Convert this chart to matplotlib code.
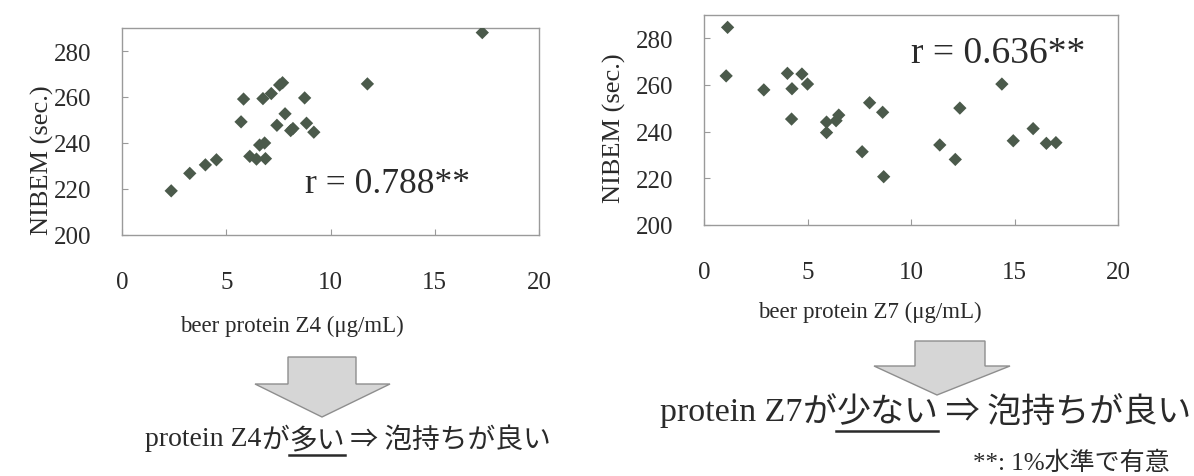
import matplotlib
matplotlib.use('Agg')
import matplotlib.pyplot as plt
from matplotlib.patches import Polygon
from matplotlib.lines import Line2D

# ---------------- data ----------------
z4_conc = [2.36, 3.25, 4.0, 4.53, 5.71, 5.83, 6.13, 6.45, 6.6, 6.76, 6.84, 6.88,
           7.16, 7.43, 7.56, 7.7, 7.82, 8.09, 8.2, 8.76, 8.85, 9.2, 11.77, 17.28]
z4_nibem = [219.2, 226.8, 230.5, 232.7, 249.2, 259.1, 234.2, 233.0, 239.1, 259.3, 240.0, 233.2,
            261.5, 247.7, 265.2, 266.2, 252.7, 245.4, 246.3, 259.6, 248.6, 244.7, 265.7, 288.0]

z7_conc = [1.14, 1.07, 2.89, 4.03, 4.25, 4.23, 4.73, 5.0, 5.92, 5.92, 6.38, 6.51,
           7.64, 8.0, 8.63, 8.68, 11.39, 12.14, 12.36, 14.39, 14.94, 15.9, 16.54, 17.0]
z7_nibem = [284.7, 263.9, 257.9, 265.0, 258.4, 245.4, 264.7, 260.4, 244.1, 239.6, 244.7, 247.1,
            231.4, 252.4, 248.3, 220.7, 234.3, 228.1, 250.1, 260.4, 236.1, 241.3, 235.0, 235.3]

x_ticks = [0, 5, 10, 15, 20]
y_ticks = [200, 220, 240, 260, 280]
r_labels = ["r = 0.788**", "r = 0.636**"]
x_labels = ["beer protein Z4 (μg/mL)", "beer protein Z7 (μg/mL)"]
y_label = "NIBEM (sec.)"

# ---------------- layout helpers ----------------
W, H = 1194, 477
fig = plt.figure(figsize=(W / 100, H / 100), dpi=100)
fig.patch.set_facecolor('white')

SERIF = ['Liberation Serif', 'Noto Sans CJK JP', 'DejaVu Sans']
MIX = ['Liberation Serif', 'Noto Sans CJK JP', 'DejaVu Sans']
JP = ['Noto Sans CJK JP', 'DejaVu Sans']
TXT = '#2a2a2a'
MK = '#4b5a4b'


def px_axes(l, t, r, b):
    return fig.add_axes([l / W, 1 - b / H, (r - l) / W, (b - t) / H])


def ftext(x, y, s, **kw):
    return fig.text(x / W, 1 - y / H, s, **kw)


def scatter_panel(box, xs, ys, rlabel, rpos, rsize, xlabel, xlab_pos, ylab_pos):
    ax = px_axes(*box)
    ax.scatter(xs, ys, marker='D', s=46, color=MK, edgecolors='none', zorder=3)
    ax.set_xlim(0, 20)
    ax.set_ylim(200, 290)
    ax.set_xticks(x_ticks)
    ax.set_yticks(y_ticks)
    ax.set_xticklabels([str(v) for v in x_ticks])
    ax.set_yticklabels([str(v) for v in y_ticks])
    for sp in ax.spines.values():
        sp.set_color('#9a9a9a')
        sp.set_linewidth(1.0)
    ax.tick_params(axis='both', direction='in', length=4, color='#9a9a9a',
                   labelsize=18, labelcolor=TXT)
    ax.tick_params(axis='y', pad=22)
    ax.tick_params(axis='x', pad=26)
    for lab in ax.get_xticklabels() + ax.get_yticklabels():
        lab.set_family(SERIF)
    ax.text(rpos[0], rpos[1], rlabel, fontsize=rsize, family=SERIF, color=TXT,
            ha='left', va='center')
    ftext(xlab_pos[0], xlab_pos[1], xlabel, fontsize=16.5, family=SERIF,
          color=TXT, ha='center', va='center')
    ftext(ylab_pos[0], ylab_pos[1], y_label, fontsize=19, family=SERIF,
          color=TXT, ha='center', va='center', rotation=90)
    return ax


scatter_panel((122, 29, 539, 236), z4_conc, z4_nibem, r_labels[0], (8.8, 222.5), 25.5,
              x_labels[0], (292, 326), (42, 160))
scatter_panel((704, 16, 1118, 226), z7_conc, z7_nibem, r_labels[1], (10.0, 274.0), 27,
              x_labels[1], (870, 312), (614, 128))


# ---------------- arrows ----------------
def block_arrow(sl, sr, st, hb, hl, hr, tip):
    pts = [(sl, st), (sr, st), (sr, hb), (hr, hb), tip, (hl, hb), (sl, hb)]
    pts = [(x / W, 1 - y / H) for x, y in pts]
    p = Polygon(pts, closed=True, facecolor='#d6d6d6', edgecolor='#8e8e8e',
                linewidth=1.0, transform=fig.transFigure)
    fig.add_artist(p)


block_arrow(288, 356, 358, 385, 255, 390, (322, 418))
block_arrow(915, 985, 342, 367, 874, 1010, (937, 396))

# ---------------- conclusion texts with underline ----------------
renderer = fig.canvas.get_renderer()


def conclusion(x0, yc, parts, size, ul_off):
    x = x0
    for s, fam, ul in parts:
        t = ftext(x, yc, s, fontsize=size, family=fam, color=TXT, ha='left',
                  va='center')
        bb = t.get_window_extent(renderer=renderer)
        w = bb.width
        if ul:
            yl = yc + ul_off
            fig.add_artist(Line2D([x / W, (x + w) / W], [1 - yl / H, 1 - yl / H],
                                  color=TXT, linewidth=1.8,
                                  transform=fig.transFigure))
        x += w


conclusion(145, 440, [("protein Z4", SERIF, False), ("が", JP, False),
                      ("多い", JP, True), (" ⇒ 泡持ちが良い", JP, False)], 20, 16)
conclusion(660, 413, [("protein Z7", SERIF, False), ("が", JP, False),
                      ("少ない", JP, True), (" ⇒ 泡持ちが良い", JP, False)], 24.5, 19)

ftext(1170, 463, "**: 1%水準で有意", fontsize=18, family=MIX, color=TXT,
      ha='right', va='center')

fig.savefig('out.png', dpi=100, facecolor='white')
